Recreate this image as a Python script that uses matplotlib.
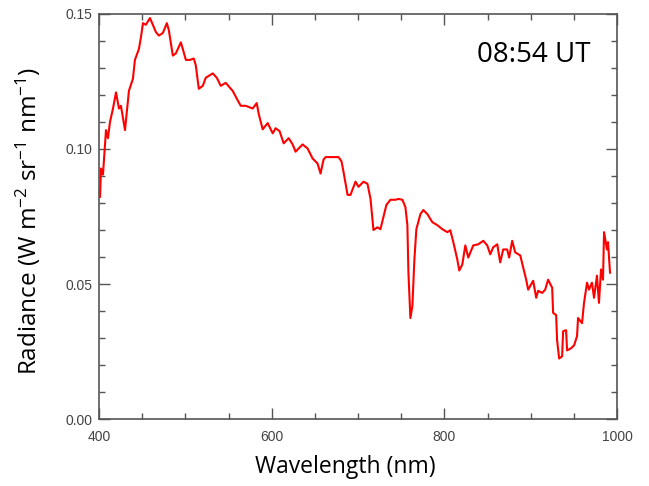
import numpy as np
import matplotlib.pyplot as plt
from matplotlib.ticker import MultipleLocator

# spectrum
wavelength = [401.2, 402.3, 404.6, 408.1, 410.4, 412.7, 416.2, 419.7, 423.1, 425.4,
              430.1, 434.7, 439.3, 441.6, 446.2, 448.6, 450.9, 454.3, 459.0, 462.4,
              465.9, 469.4, 474.0, 478.6, 480.9, 485.5, 489.0, 494.8, 497.1, 500.6,
              505.2, 509.8, 512.1, 515.6, 520.2, 523.7, 531.8, 536.4, 541.0, 546.8,
              554.9, 560.7, 564.2, 569.9, 578.0, 582.7, 585.0, 589.6, 595.4, 601.2,
              604.6, 609.2, 613.9, 619.7, 624.3, 627.7, 635.8, 641.6, 647.4, 653.2,
              656.6, 660.1, 662.4, 671.7, 677.5, 680.9, 683.2, 687.9, 691.3, 697.1,
              700.6, 706.4, 711.0, 714.5, 717.9, 722.5, 726.0, 729.5, 732.9, 737.6,
              743.4, 746.8, 751.4, 754.9, 757.2, 758.4, 760.7, 763.0, 765.3, 767.6,
              772.3, 775.7, 780.3, 786.1, 791.9, 797.7, 803.5, 806.9, 810.4, 815.0,
              817.3, 820.8, 824.3, 827.7, 833.5, 839.3, 845.1, 849.7, 853.2, 856.6,
              861.3, 864.7, 868.2, 872.8, 875.1, 878.6, 882.1, 887.9, 891.3, 894.8,
              897.1, 902.9, 906.4, 908.7, 913.3, 916.8, 920.2, 924.9, 926.0, 929.5,
              930.6, 933.0, 936.4, 937.6, 941.0, 942.2, 946.8, 950.3, 953.7, 954.9,
              959.5, 961.8, 965.3, 967.6, 971.0, 973.4, 976.8, 979.1, 981.5, 983.8,
              985.0, 988.4, 989.6, 991.9]
radiance = [0.0823, 0.0928, 0.0905, 0.1070, 0.1040, 0.1100, 0.1150, 0.1210, 0.1150, 0.1160,
            0.1070, 0.1216, 0.1260, 0.1330, 0.1370, 0.1414, 0.1466, 0.1460, 0.1485, 0.1460,
            0.1433, 0.1420, 0.1430, 0.1466, 0.1440, 0.1346, 0.1354, 0.1395, 0.1370, 0.1330,
            0.1330, 0.1335, 0.1310, 0.1223, 0.1234, 0.1264, 0.1280, 0.1264, 0.1234, 0.1245,
            0.1215, 0.1180, 0.1160, 0.1160, 0.1150, 0.1170, 0.1130, 0.1073, 0.1096, 0.1058,
            0.1077, 0.1066, 0.1021, 0.1040, 0.1017, 0.0990, 0.1017, 0.1002, 0.0965, 0.0946,
            0.0909, 0.0961, 0.0970, 0.0970, 0.0970, 0.0954, 0.0916, 0.0830, 0.0830, 0.0879,
            0.0860, 0.0879, 0.0871, 0.0815, 0.0700, 0.0710, 0.0703, 0.0748, 0.0793, 0.0812,
            0.0812, 0.0815, 0.0812, 0.0785, 0.0718, 0.0542, 0.0374, 0.0419, 0.0590, 0.0703,
            0.0759, 0.0774, 0.0759, 0.0729, 0.0718, 0.0703, 0.0692, 0.0699, 0.0655, 0.0591,
            0.0550, 0.0572, 0.0643, 0.0598, 0.0643, 0.0647, 0.0660, 0.0643, 0.0610, 0.0636,
            0.0647, 0.0580, 0.0628, 0.0628, 0.0598, 0.0660, 0.0617, 0.0606, 0.0561, 0.0516,
            0.0479, 0.0512, 0.0449, 0.0475, 0.0467, 0.0479, 0.0516, 0.0486, 0.0393, 0.0385,
            0.0292, 0.0224, 0.0232, 0.0325, 0.0329, 0.0254, 0.0262, 0.0273, 0.0307, 0.0374,
            0.0355, 0.0430, 0.0505, 0.0479, 0.0505, 0.0449, 0.0531, 0.0430, 0.0554, 0.0516,
            0.0692, 0.0628, 0.0655, 0.0542]

time_label = "08:54 UT"

plt.rcParams['font.family'] = ['Open Sans', 'DejaVu Sans']
plt.rcParams['mathtext.default'] = 'regular'

fig = plt.figure(figsize=(6.49, 4.86), dpi=100)
ax = fig.add_axes([99 / 649, 1 - 419 / 486, 518 / 649, 405 / 486])

ax.plot(wavelength, radiance, color='#ff0000', lw=1.5)

ax.set_xlim(400, 1000)
ax.set_ylim(0, 0.15)
ax.xaxis.set_major_locator(MultipleLocator(200))
ax.xaxis.set_minor_locator(MultipleLocator(50))
ax.yaxis.set_major_locator(MultipleLocator(0.05))
ax.yaxis.set_minor_locator(MultipleLocator(0.01))
ax.yaxis.set_major_formatter(plt.FormatStrFormatter('%.2f'))

ax.tick_params(which='both', direction='in', top=True, right=True,
               color='#555555', width=1)
ax.tick_params(which='major', length=8, labelsize=10, labelcolor='#444444')
ax.tick_params(which='minor', length=4)
ax.tick_params(axis='x', which='major', pad=8)
ax.tick_params(axis='y', which='major', pad=5)
for lab in ax.get_xticklabels() + ax.get_yticklabels():
    lab.set_family('Liberation Sans')
for s in ax.spines.values():
    s.set_color('#555555')
    s.set_linewidth(1.2)

ax.set_xlabel('Wavelength (nm)', fontsize=16.5)
ax.xaxis.set_label_coords(0.476, -0.089)
ax.set_ylabel(r'Radiance (W m$^{-2}$ sr$^{-1}$ nm$^{-1}$)', fontsize=17.5)
ax.yaxis.set_label_coords(-0.108, 0.49)

ax.text(0.948, 0.898, time_label, transform=ax.transAxes, fontsize=20,
        ha='right', va='center')

fig.savefig('out.png', dpi=100)
